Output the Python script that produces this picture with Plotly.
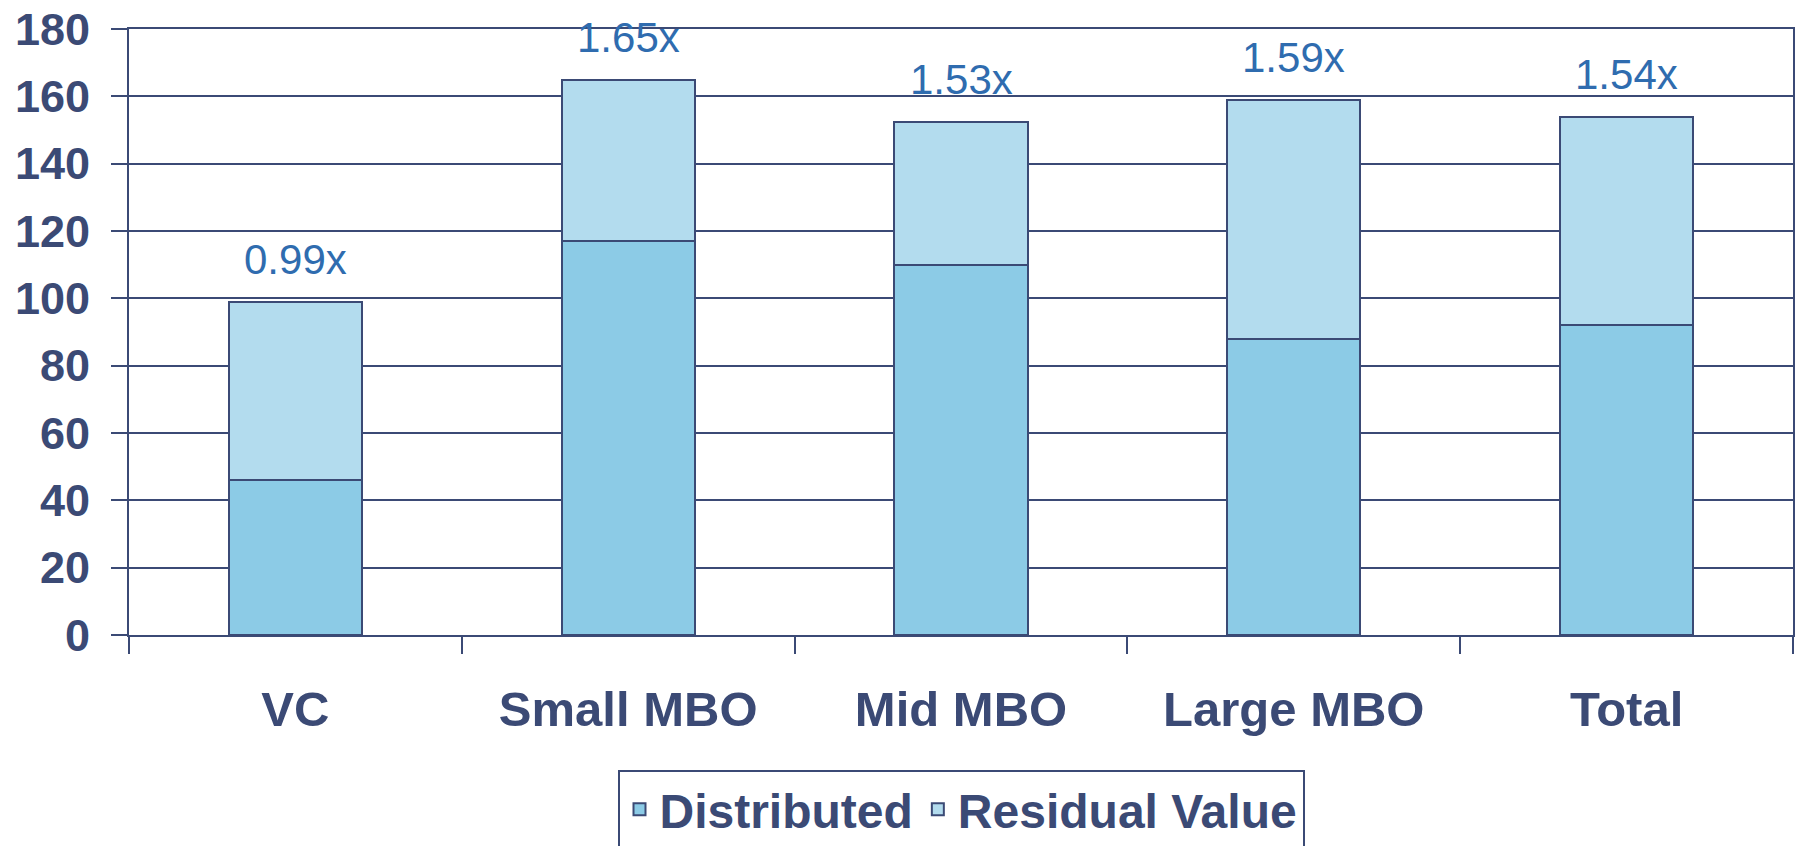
import plotly.graph_objects as go

categories = ["VC", "Small MBO", "Mid MBO", "Large MBO", "Total"]
distributed = [46, 117, 110, 88, 92]
residual = [53, 48, 42.5, 71, 62]
multiples = ["0.99x", "1.65x", "1.53x", "1.59x", "1.54x"]
y_ticks = [0, 20, 40, 60, 80, 100, 120, 140, 160, 180]

NAVY = "#3b4a75"
DIST_COLOR = "#8ccbe6"
RESID_COLOR = "#b3dcee"
LABEL_BLUE = "#2f6caf"
FONT = "Liberation Sans, Arial, sans-serif"

fig = go.Figure()
fig.add_trace(go.Bar(
    x=categories, y=distributed, name="Distributed",
    marker=dict(color=DIST_COLOR, line=dict(color=NAVY, width=2)),
    width=0.4,
))
fig.add_trace(go.Bar(
    x=categories, y=residual, name="Residual Value",
    marker=dict(color=RESID_COLOR, line=dict(color=NAVY, width=2)),
    width=0.4,
))

totals = [d + r for d, r in zip(distributed, residual)]
for cat, tot, lab in zip(categories, totals, multiples):
    fig.add_annotation(
        x=cat, y=tot, text=lab, showarrow=False, yanchor="middle",
        yshift=42,
        font=dict(family=FONT, size=42, color=LABEL_BLUE),
    )

fig.update_layout(
    barmode="stack",
    width=1797, height=846,
    margin=dict(l=129, r=4, t=29, b=211, autoexpand=False),
    plot_bgcolor="white", paper_bgcolor="white",
    legend=dict(
        orientation="h", x=0.5, xanchor="center", y=-0.222, yanchor="top",
        bordercolor=NAVY, borderwidth=2, traceorder="normal",
        font=dict(family=FONT, size=48, color=NAVY, weight="bold"),
        itemsizing="constant",
    ),
    showlegend=True,
)
fig.update_xaxes(
    type="category",
    showline=True, linecolor=NAVY, linewidth=2, mirror=True,
    ticks="outside", tickson="boundaries", ticklen=17, tickcolor=NAVY, tickwidth=2,
    showgrid=False,
    tickfont=dict(family=FONT, size=49, color=NAVY, weight="bold"),
    ticklabelstandoff=30,
)
fig.update_yaxes(
    range=[0, 180], tickvals=y_ticks,
    showline=True, linecolor=NAVY, linewidth=2, mirror=True,
    ticks="outside", ticklen=16, tickcolor=NAVY, tickwidth=2,
    showgrid=True, gridcolor=NAVY, gridwidth=2,
    zeroline=False,
    tickfont=dict(family=FONT, size=45, color=NAVY, weight="bold"),
    ticklabelstandoff=12,
    ticklabeloverflow="allow",
)

fig.write_html(
    "out.html",
    config={"displayModeBar": False},
    post_script="document.body.style.margin='0';document.body.style.overflow='hidden';",
)
